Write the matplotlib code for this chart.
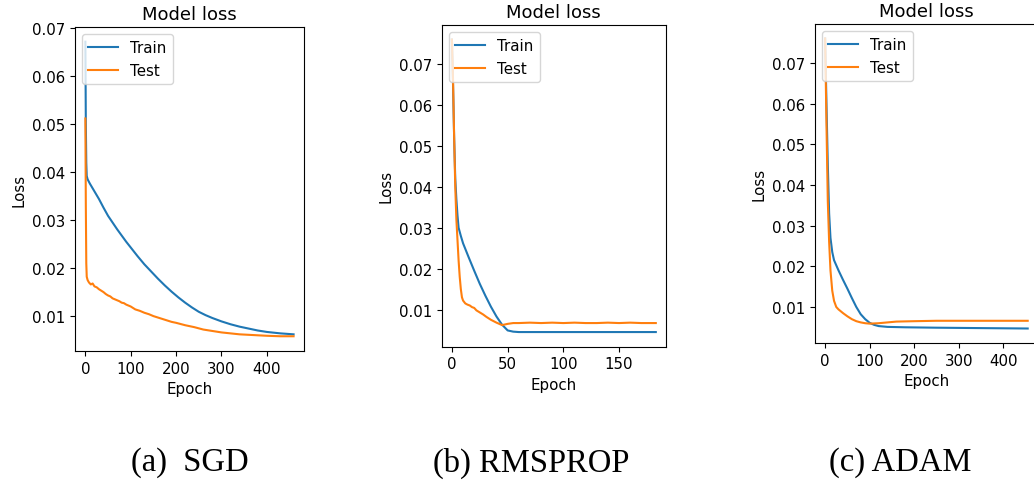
import matplotlib.pyplot as plt
from matplotlib.ticker import MultipleLocator

# SGD loss history (epoch, value)
sgd_train_epochs = [0, 1, 2, 3, 5, 10, 20, 30, 40, 50, 60, 70, 80, 90, 100, 115,
                    130, 145, 160, 175, 190, 205, 220, 235, 250, 265, 280, 300,
                    320, 340, 360, 380, 400, 430, 459]
sgd_train_loss = [0.0672, 0.0500, 0.0420, 0.0392, 0.0385, 0.0376, 0.0360, 0.0344,
                  0.0326, 0.0309, 0.0295, 0.0281, 0.0268, 0.0255, 0.0243, 0.0225,
                  0.0208, 0.0193, 0.0178, 0.0164, 0.0151, 0.0139, 0.0128, 0.0118,
                  0.0109, 0.0102, 0.0096, 0.0089, 0.0083, 0.0078, 0.0074, 0.0070,
                  0.0067, 0.0064, 0.0062]
sgd_test_epochs = [0, 1, 2, 3, 5, 8, 12, 16, 20, 25, 30, 35, 40, 45, 50, 55, 60,
                   65, 70, 75, 80, 85, 90, 95, 100, 110, 120, 130, 140, 150, 160,
                   170, 180, 190, 200, 220, 240, 260, 280, 300, 320, 340, 360,
                   380, 400, 430, 459]
sgd_test_loss = [0.0512, 0.0330, 0.0210, 0.0182, 0.0175, 0.0170, 0.0166, 0.0168,
                 0.0162, 0.0160, 0.0156, 0.0153, 0.0150, 0.0146, 0.0143, 0.0141,
                 0.0137, 0.0135, 0.0133, 0.0131, 0.0128, 0.0127, 0.0124, 0.0122,
                 0.0120, 0.0114, 0.0111, 0.0107, 0.0104, 0.0100, 0.0097, 0.0094,
                 0.0091, 0.0088, 0.0086, 0.0081, 0.0077, 0.0072, 0.0069, 0.0066,
                 0.0064, 0.0062, 0.0061, 0.0060, 0.0059, 0.0058, 0.0058]

# RMSprop loss history
rms_train_epochs = [0, 1, 2, 3, 4, 5, 6, 8, 10, 15, 20, 25, 30, 35, 40, 45, 50,
                    55, 60, 80, 100, 120, 140, 160, 183]
rms_train_loss = [0.0760, 0.0650, 0.0520, 0.0420, 0.0370, 0.0330, 0.0300, 0.0280,
                  0.0262, 0.0228, 0.0195, 0.0163, 0.0134, 0.0107, 0.0083, 0.0063,
                  0.0049, 0.0046, 0.0045, 0.0045, 0.0045, 0.0045, 0.0045, 0.0045,
                  0.0045]
rms_test_epochs = [0, 1, 2, 3, 4, 5, 6, 7, 8, 9, 10, 12, 14, 16, 18, 20, 22, 25,
                   28, 31, 35, 40, 45, 50, 55, 60, 70, 80, 90, 100, 110, 120,
                   130, 140, 150, 160, 170, 183]
rms_test_loss = [0.0760, 0.0660, 0.0520, 0.0400, 0.0320, 0.0270, 0.0220, 0.0180,
                 0.0150, 0.0130, 0.0122, 0.0115, 0.0112, 0.0110, 0.0106, 0.0104,
                 0.0098, 0.0093, 0.0088, 0.0082, 0.0075, 0.0068, 0.0062, 0.0065,
                 0.0067, 0.0067, 0.0068, 0.0067, 0.0068, 0.0067, 0.0068, 0.0067,
                 0.0067, 0.0068, 0.0067, 0.0068, 0.0067, 0.0067]

# Adam loss history
adam_train_epochs = [0, 3, 6, 9, 12, 16, 20, 30, 40, 50, 60, 70, 80, 90, 100,
                     110, 120, 140, 180, 250, 350, 455]
adam_train_loss = [0.0760, 0.0600, 0.0450, 0.0330, 0.0270, 0.0235, 0.0215, 0.0190,
                   0.0167, 0.0145, 0.0122, 0.0100, 0.0082, 0.0070, 0.0061, 0.0056,
                   0.0053, 0.0051, 0.0050, 0.0049, 0.0048, 0.0047]
adam_test_epochs = [0, 3, 6, 9, 12, 16, 20, 25, 30, 40, 50, 60, 70, 80, 90, 100,
                    120, 140, 160, 200, 250, 300, 350, 455]
adam_test_loss = [0.0760, 0.0550, 0.0360, 0.0260, 0.0190, 0.0140, 0.0115, 0.0100,
                  0.0094, 0.0085, 0.0077, 0.0070, 0.0065, 0.0062, 0.0060, 0.0059,
                  0.0060, 0.0062, 0.0064, 0.0065, 0.0066, 0.0066, 0.0066, 0.0066]

captions = ["(a)  SGD", "(b) RMSPROP", "(c) ADAM"]
epoch_steps = [100, 50, 100]

panels = [
    (sgd_train_epochs, sgd_train_loss, sgd_test_epochs, sgd_test_loss),
    (rms_train_epochs, rms_train_loss, rms_test_epochs, rms_test_loss),
    (adam_train_epochs, adam_train_loss, adam_test_epochs, adam_test_loss),
]
positions = [
    [0.0725, 0.2802, 0.2215, 0.6626],
    [0.4272, 0.2890, 0.2169, 0.6579],
    [0.7882, 0.2965, 0.2155, 0.6524],
]
caption_x = [190, 531, 900]

plt.rcParams["font.size"] = 10.8

fig = plt.figure(figsize=(10.34, 4.89), dpi=100)

for (tr_x, tr_y, te_x, te_y), pos, cap, cx, step in zip(
        panels, positions, captions, caption_x, epoch_steps):
    ax = fig.add_axes(pos)
    ax.plot(tr_x, tr_y, label="Train")
    ax.plot(te_x, te_y, label="Test")
    ax.xaxis.set_major_locator(MultipleLocator(step))
    ax.set_title("Model loss")
    ax.set_xlabel("Epoch")
    ax.set_ylabel("Loss")
    ax.legend(loc="upper left")
    fig.text(cx / 1034, 1 - 463 / 489, cap, ha="center", va="center",
             family="Liberation Serif", fontsize=23.5)

fig.savefig("out.png", dpi=100)
